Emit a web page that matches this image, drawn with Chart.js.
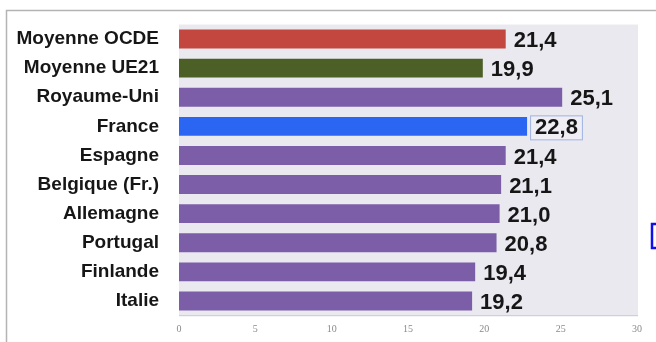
<!DOCTYPE html>
<html>
<head>
<meta charset="utf-8">
<script src="https://cdn.jsdelivr.net/npm/chart.js@4"></script>
<style>
  html, body { margin: 0; padding: 0; background: #ffffff; }
  #c { display: block; }
</style>
</head>
<body>
<canvas id="c" width="656" height="342"></canvas>
<script>
const categories = ["Moyenne OCDE", "Moyenne UE21", "Royaume-Uni", "France", "Espagne",
  "Belgique (Fr.)", "Allemagne", "Portugal", "Finlande", "Italie"];
const values = [21.4, 19.9, 25.1, 22.8, 21.4, 21.1, 21.0, 20.8, 19.4, 19.2];
const xTickValues = [0, 5, 10, 15, 20, 25, 30];
const highlighted = "France";

const barColors = categories.map(c =>
  c === "Moyenne OCDE" ? "#c4473f" :
  c === "Moyenne UE21" ? "#4c5f26" :
  c === highlighted ? "#2a66f2" : "#7c5ea8");

const fmt = v => v.toFixed(1).replace(".", ",");

const framePlugin = {
  id: "frame",
  beforeDraw(chart) {
    const ctx = chart.ctx, a = chart.chartArea;
    ctx.save();
    ctx.fillStyle = "#ffffff";
    ctx.fillRect(0, 0, chart.width, chart.height);
    ctx.strokeStyle = "#b4b4b4";
    ctx.lineWidth = 1.5;
    ctx.beginPath();
    ctx.moveTo(6.5, chart.height);
    ctx.lineTo(6.5, 10.5);
    ctx.lineTo(chart.width, 10.5);
    ctx.stroke();
    ctx.fillStyle = "#ebe9f0";
    ctx.fillRect(a.left, a.top, a.right - a.left + 1, a.bottom - a.top + 1);
    ctx.strokeStyle = "#1010ee";
    ctx.lineWidth = 2.5;
    ctx.strokeRect(652, 224, 12, 24);
    ctx.restore();
  }
};

const labelPlugin = {
  id: "valueLabels",
  afterDatasetsDraw(chart) {
    const ctx = chart.ctx;
    const meta = chart.getDatasetMeta(0);
    ctx.save();
    ctx.font = "bold 22px 'Liberation Sans', Arial, sans-serif";
    ctx.textAlign = "left";
    ctx.textBaseline = "middle";
    meta.data.forEach((el, i) => {
      const txt = fmt(values[i]);
      const x = el.x + 8, y = el.y + 2;
      if (categories[i] === highlighted) {
        const w = ctx.measureText(txt).width;
        ctx.fillStyle = "#eeeef4";
        ctx.fillRect(x - 4, y - 12, w + 9, 24);
        ctx.strokeStyle = "#9fb3e2";
        ctx.lineWidth = 1;
        ctx.strokeRect(x - 4.5, y - 12.5, w + 9, 24);
      }
      ctx.fillStyle = "#161616";
      ctx.fillText(txt, x, y);
    });
    ctx.restore();
  }
};

new Chart(document.getElementById("c"), {
  type: "bar",
  data: {
    labels: categories,
    datasets: [{
      data: values,
      backgroundColor: barColors,
      borderWidth: 0,
      categoryPercentage: 1,
      barPercentage: 0.65
    }]
  },
  options: {
    indexAxis: "y",
    responsive: false,
    animation: false,
    events: [],
    layout: { padding: { top: 24.5, right: 19, left: 0, bottom: 0 } },
    plugins: { legend: { display: false }, tooltip: { enabled: false } },
    scales: {
      x: {
        min: 0, max: 30,
        afterBuildTicks: s => { s.ticks = xTickValues.map(v => ({ value: v })); },
        afterFit: s => { s.height = 26.5; s.paddingLeft = 0; s.paddingRight = 0; },
        grid: { display: false },
        border: { display: true, color: "#cfcfd6", width: 1 },
        ticks: {
          padding: 0,
          color: "#8a8a8a",
          font: { family: "'Liberation Serif', 'Times New Roman', serif", size: 10 },
          maxRotation: 0
        }
      },
      y: {
        afterFit: s => { s.width = 179; s.paddingTop = 0; s.paddingBottom = 0; },
        grid: { display: false, drawTicks: false },
        border: { display: false },
        ticks: {
          padding: 20,
          color: "#161616",
          font: { family: "'Liberation Sans', Arial, sans-serif", size: 19, weight: "bold" }
        }
      }
    }
  },
  plugins: [framePlugin, labelPlugin]
});
</script>
</body>
</html>
